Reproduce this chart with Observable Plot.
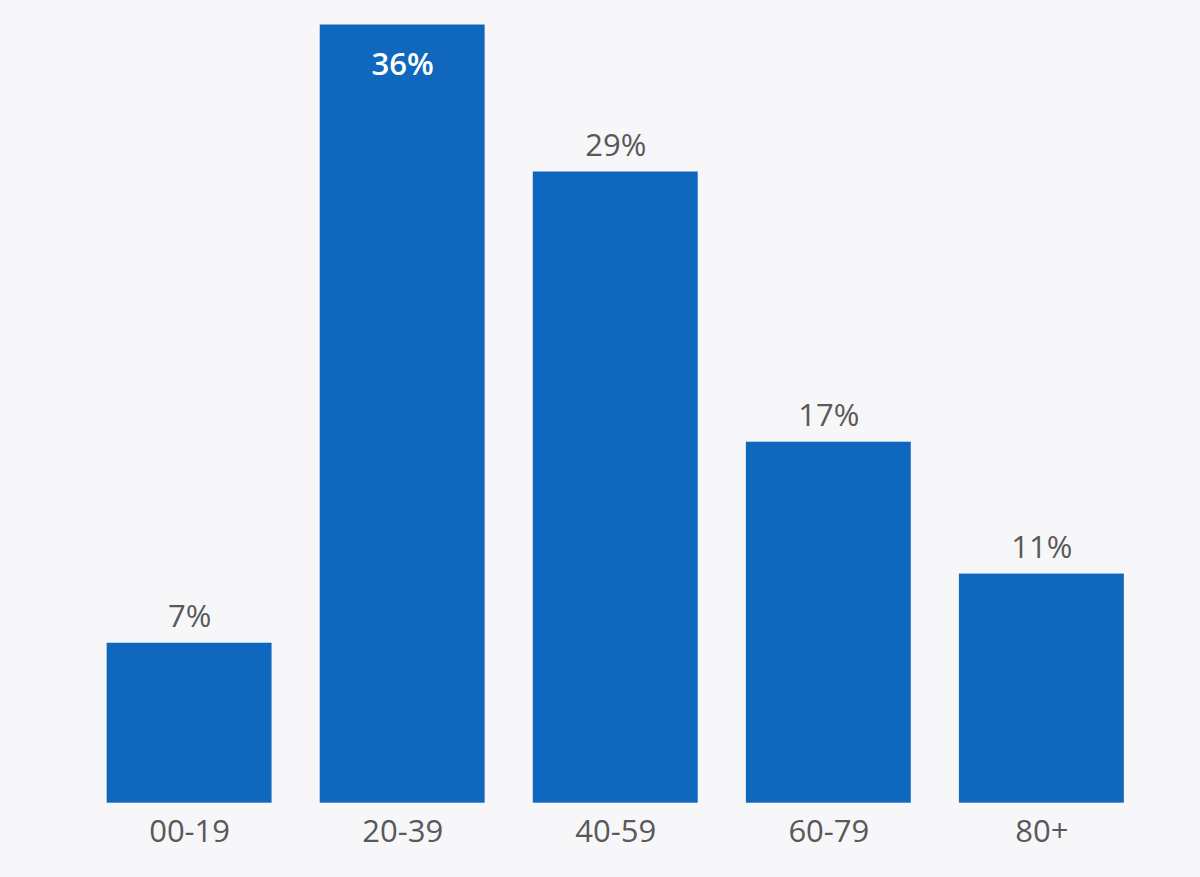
<!DOCTYPE html>
<html>
<head>
<meta charset="utf-8">
<script src="https://cdn.jsdelivr.net/npm/d3@7"></script>
<script src="https://cdn.jsdelivr.net/npm/@observablehq/plot@0.6"></script>
<style>
  html, body { margin: 0; padding: 0; background: #f7f7fa; }
  #chart { width: 1200px; height: 877px; }
</style>
</head>
<body>
<div id="chart"></div>
<script>
const categories = ["00-19", "20-39", "40-59", "60-79", "80+"];
const shares = [7.4, 36, 29.2, 16.7, 10.6];
const labels = ["7%", "36%", "29%", "17%", "11%"];

const data = categories.map((c, i) => ({ age: c, share: shares[i], label: labels[i] }));
const maxShare = d3.max(shares);
const outside = data.filter(d => d.share !== maxShare);
const inside = data.filter(d => d.share === maxShare);

const chart = Plot.plot({
  width: 1200,
  height: 877,
  marginTop: 24.5,
  marginBottom: 74.3,
  marginLeft: 58.5,
  marginRight: 28,
  style: { background: "#f7f7fa", fontFamily: "'Open Sans', sans-serif" },
  x: { domain: categories, padding: 0.226, round: false },
  y: { domain: [0, maxShare], axis: null },
  marks: [
    Plot.barY(data, { x: "age", y: "share", fill: "#0f67be" }),
    Plot.axisX({ tickSize: 0, tickPadding: 17, fontSize: 31, fill: "#595959", label: null }),
    Plot.text(outside, { x: "age", y: "share", text: "label", lineAnchor: "bottom", dy: -16, fontSize: 31, fill: "#595959" }),
    Plot.text(inside, { x: "age", y: "share", text: "label", lineAnchor: "bottom", dy: 50, fontSize: 31, fontWeight: 600, fill: "#ffffff" })
  ]
});
document.getElementById("chart").appendChild(chart);
</script>
</body>
</html>
